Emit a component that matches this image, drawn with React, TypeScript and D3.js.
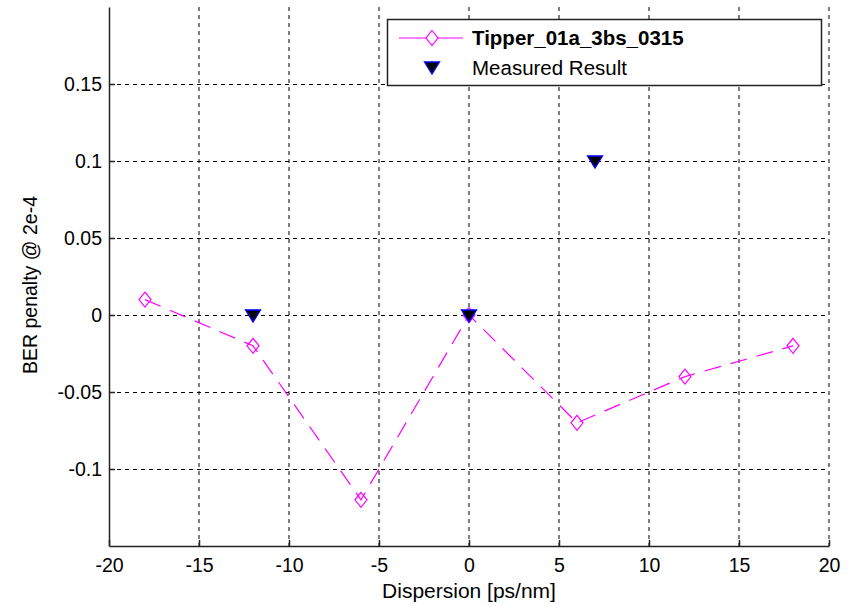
import React, { useRef, useEffect } from 'react';
import * as d3 from 'd3';

const dispersion = [-18, -12, -6, 0, 6, 12, 18];
const tipperPenalty = [0.01, -0.02, -0.12, 0, -0.07, -0.04, -0.02];
const measuredX = [-12, 0, 7];
const measuredY = [0, 0, 0.1];
const xTicks = [-20, -15, -10, -5, 0, 5, 10, 15, 20];
const yTicks = [-0.1, -0.05, 0, 0.05, 0.1, 0.15];
const seriesNames = ['Tipper_01a_3bs_0315', 'Measured Result'];

const App = () => {
  const svgRef = useRef(null);

  useEffect(() => {
    const svg = d3.select(svgRef.current);
    svg.selectAll('*').remove();

    const width = 849;
    const height = 607;
    const left = 109;
    const right = 829;
    const top = 7;
    const bottom = 546;
    const font = 'Arial, "Liberation Sans", sans-serif';

    svg.attr('width', width).attr('height', height);

    const x = d3.scaleLinear().domain([-20, 20]).range([left, right]);
    const y = d3.scaleLinear().domain([-0.15, 0.2]).range([bottom, top]);

    // Grid
    const grid = svg.append('g');
    xTicks.filter((t) => t !== -20).forEach((t) => {
      grid
        .append('line')
        .attr('x1', x(t))
        .attr('x2', x(t))
        .attr('y1', top)
        .attr('y2', bottom)
        .attr('stroke', '#000')
        .attr('stroke-dasharray', '4,4')
        .attr('stroke-width', 1);
    });
    yTicks.forEach((t) => {
      grid
        .append('line')
        .attr('x1', left)
        .attr('x2', right)
        .attr('y1', Math.round(y(t)) + 0.5)
        .attr('y2', Math.round(y(t)) + 0.5)
        .attr('stroke', '#000')
        .attr('stroke-dasharray', '4,4')
        .attr('stroke-width', 1);
    });

    // Axes
    const xAxis = svg
      .append('g')
      .attr('transform', `translate(0, ${bottom})`)
      .call(
        d3
          .axisBottom(x)
          .tickValues(xTicks)
          .tickFormat((d) => String(d))
          .tickSizeInner(-6)
          .tickSizeOuter(0)
          .tickPadding(12)
      );
    xAxis.select('.domain').attr('stroke', '#222').attr('stroke-width', 1.5);
    xAxis.selectAll('.tick line').attr('stroke', '#222').attr('stroke-width', 1.5);
    xAxis
      .selectAll('text')
      .attr('font-family', font)
      .attr('font-size', 19.5)
      .attr('fill', '#000');

    const yAxis = svg
      .append('g')
      .attr('transform', `translate(${left}, 0)`)
      .call(
        d3
          .axisLeft(y)
          .tickValues(yTicks)
          .tickFormat((d) => String(+(+d).toFixed(2)))
          .tickSizeInner(-6)
          .tickSizeOuter(0)
          .tickPadding(7)
      );
    yAxis.select('.domain').attr('stroke', '#222').attr('stroke-width', 1.5);
    yAxis.selectAll('.tick line').attr('stroke', '#222').attr('stroke-width', 1.5);
    yAxis
      .selectAll('text')
      .attr('font-family', font)
      .attr('font-size', 19.5)
      .attr('fill', '#000');

    // Axis labels
    svg
      .append('text')
      .attr('x', (left + right) / 2)
      .attr('y', 598)
      .attr('text-anchor', 'middle')
      .attr('font-family', font)
      .attr('font-size', 21)
      .text('Dispersion [ps/nm]');

    svg
      .append('text')
      .attr('transform', `translate(37, 285) rotate(-90)`)
      .attr('text-anchor', 'middle')
      .attr('font-family', font)
      .attr('font-size', 19.5)
      .text('BER penalty @ 2e-4');

    // Tipper line
    const pts = dispersion.map((d, i) => [x(d), y(tipperPenalty[i])]);
    svg
      .append('path')
      .attr('d', d3.line()(pts))
      .attr('fill', 'none')
      .attr('stroke', '#ff00ff')
      .attr('stroke-width', 1.2)
      .attr('stroke-dasharray', '17,10');

    const diamond = (cx, cy) =>
      `M${cx},${cy - 7.5}L${cx + 6},${cy}L${cx},${cy + 7.5}L${cx - 6},${cy}Z`;
    const triangle = (cx, cy) =>
      `M${cx - 7.5},${cy - 5}L${cx + 7.5},${cy - 5}L${cx},${cy + 7}Z`;

    pts.forEach(([px, py]) => {
      svg
        .append('path')
        .attr('d', diamond(px, py))
        .attr('fill', 'none')
        .attr('stroke', '#ff00ff')
        .attr('stroke-width', 1.2);
    });

    measuredX.forEach((d, i) => {
      svg
        .append('path')
        .attr('d', triangle(x(d), y(measuredY[i])))
        .attr('fill', '#000')
        .attr('stroke', '#0000ff')
        .attr('stroke-width', 1.3);
    });

    // Legend
    const lg = svg.append('g');
    lg.append('rect')
      .attr('x', 387.5)
      .attr('y', 19.5)
      .attr('width', 434)
      .attr('height', 66)
      .attr('fill', '#fff')
      .attr('stroke', '#222')
      .attr('stroke-width', 1.5);

    lg.append('line')
      .attr('x1', 399)
      .attr('x2', 463)
      .attr('y1', 38)
      .attr('y2', 38)
      .attr('stroke', '#ff00ff')
      .attr('stroke-width', 1.2);
    lg.append('path')
      .attr('d', diamond(432, 38))
      .attr('fill', '#fff')
      .attr('stroke', '#ff00ff')
      .attr('stroke-width', 1.2);
    lg.append('text')
      .attr('x', 472)
      .attr('y', 45)
      .attr('font-family', font)
      .attr('font-size', 20.5)
      .attr('font-weight', 'bold')
      .text(seriesNames[0]);

    lg.append('path')
      .attr('d', triangle(432, 67))
      .attr('fill', '#000')
      .attr('stroke', '#0000ff')
      .attr('stroke-width', 1.3);
    lg.append('text')
      .attr('x', 472)
      .attr('y', 75)
      .attr('font-family', font)
      .attr('font-size', 20.5)
      .text(seriesNames[1]);
  }, []);

  return <svg ref={svgRef} style={{ position: 'absolute', left: 0, top: 0 }} />;
};

export default App;
